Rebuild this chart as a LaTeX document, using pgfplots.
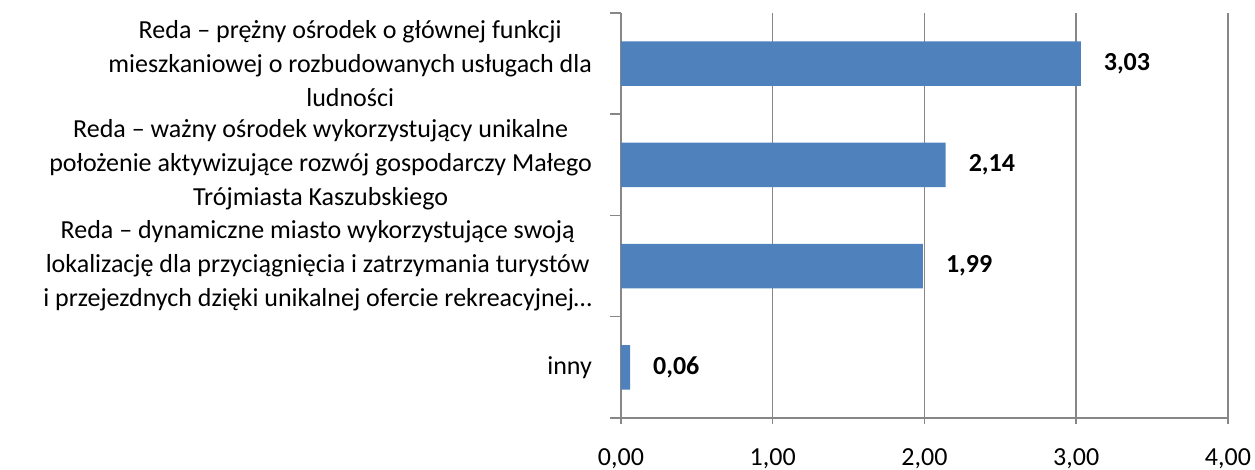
\documentclass[border=0pt]{standalone}
\usepackage{fontspec}
\setmainfont{Carlito}
\usepackage{pgfplots}
\pgfplotsset{compat=1.18}
\definecolor{barblue}{HTML}{4F81BD}
\definecolor{gridgray}{HTML}{878787}
\begin{document}
\begin{tikzpicture}
\useasboundingbox (-310.5pt,-26pt) rectangle (317pt,209pt);
\begin{axis}[
  at={(0,0)}, anchor=south west,
  scale only axis,
  width=303.5pt, height=202.5pt,
  xmin=0, xmax=4,
  ymin=0.5, ymax=4.5,
  axis x line*=bottom,
  axis y line*=left,
  axis line style={gridgray, line width=0.75pt},
  xtick={0,1,2,3,4},
  xticklabels={{0,00},{1,00},{2,00},{3,00},{4,00}},
  xtick pos=bottom,
  x tick label style={yshift=-9pt},
  major x tick style={gridgray, line width=0.75pt},
  tick align=outside,
  major tick length=3pt,
  xmajorgrids,
  grid style={gridgray, line width=0.75pt},
  ytick={1,2,3,4},
  yticklabels={
    inny,
    {Reda -- dynamiczne miasto wykorzystujące swoją\\lokalizację dla przyciągnięcia i zatrzymania turystów\\i przejezdnych dzięki unikalnej ofercie rekreacyjnej…},
    {Reda -- ważny ośrodek wykorzystujący unikalne\\położenie aktywizujące rozwój gospodarczy Małego\\Trójmiasta Kaszubskiego},
    {Reda -- prężny ośrodek o głównej funkcji\\mieszkaniowej o rozbudowanych usługach dla\\ludności}
  },
  major y tick style={draw=none},
  minor ytick={0.5,1.5,2.5,3.5,4.5},
  minor y tick style={gridgray, line width=0.75pt},
  minor tick length=5.5pt,
  y tick label style={align=center, xshift=-8pt, font=\fontsize{13}{17}\selectfont},
  tick label style={font=\fontsize{13}{17}\selectfont},
  xbar,
  bar width=0.44,
  /pgf/number format/assume math mode=true,
  nodes near coords={\pgfmathprintnumber[fixed, fixed zerofill, precision=2, use comma]{\pgfplotspointmeta}},
  nodes near coords style={font=\fontsize{13}{17}\selectfont\bfseries, anchor=west, xshift=8pt},
  point meta=x,
  clip=false,
]
\addplot[fill=barblue, draw=none] coordinates {(0.06,1) (1.99,2) (2.14,3) (3.03,4)};
\end{axis}
\end{tikzpicture}
\end{document}
